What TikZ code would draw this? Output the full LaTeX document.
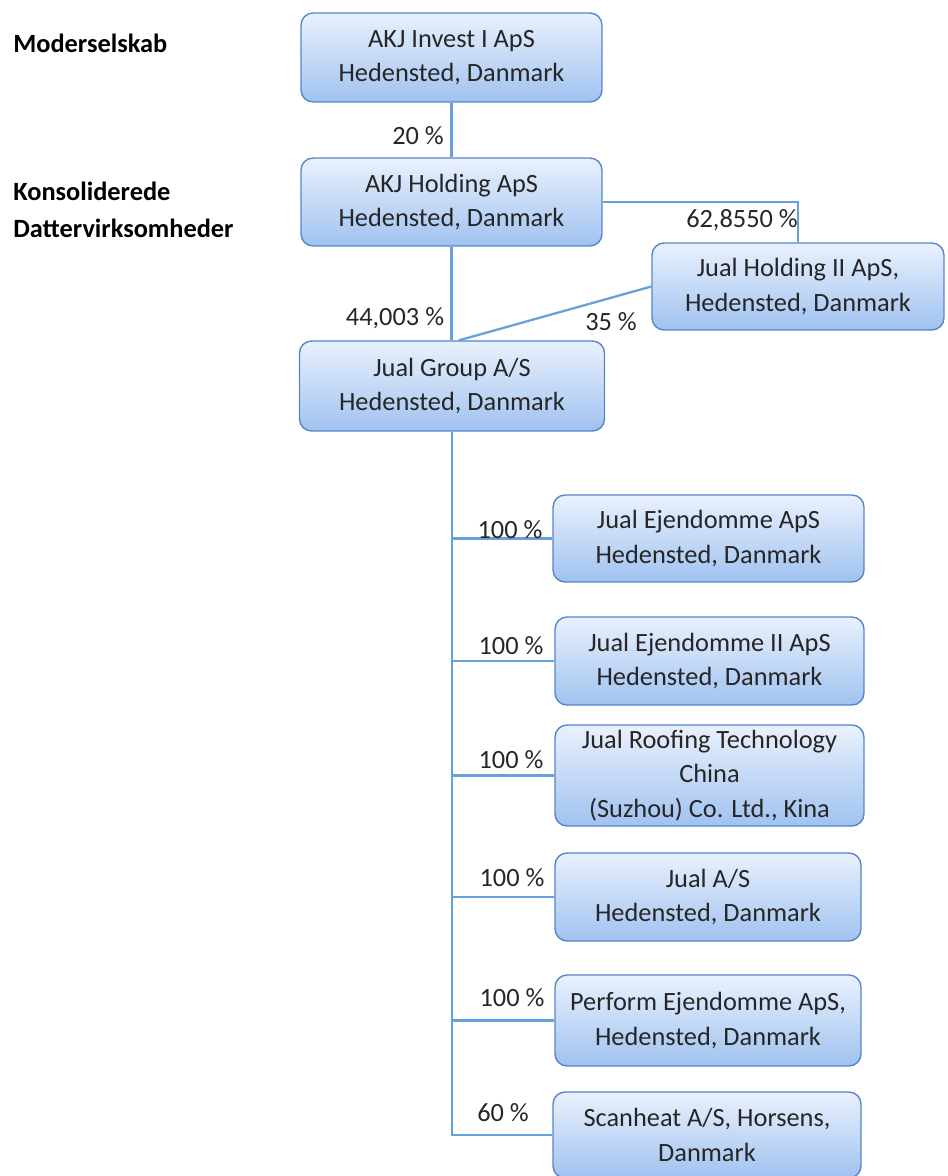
\documentclass[tikz,border=0pt]{standalone}
\usepackage{fontspec}
\setmainfont{Carlito}
\definecolor{boxline}{RGB}{84,134,200}
\definecolor{boxtop}{RGB}{234,241,253}
\definecolor{boxbot}{RGB}{160,194,240}
\definecolor{wire}{RGB}{104,160,218}
\begin{document}
\begin{tikzpicture}[x=0.02cm,y=-0.02cm,
                    font=\fontsize{15}{19.5}\selectfont,
                    box/.style={rounded corners=0.24cm,draw=boxline,line width=0.8pt,
                                top color=boxtop,bottom color=boxbot,align=center,
                                text=black!85,inner sep=2pt},
                    wire/.style={draw=wire,line width=1.3pt},
                    pct/.style={text=black!85,inner sep=0pt},
                    head/.style={anchor=west,align=left,inner sep=0pt,
                                 font=\fontsize{15}{21}\selectfont\bfseries}
                   ]
  \useasboundingbox (0,0) rectangle (947,1176);

  % side headings
  \node[head] (mother) at (13,43) {Moderselskab};
  \node[head] (subs) at (13,209.5) {Konsoliderede\\Dattervirksomheder};

  % companies
  \node[box,minimum width=6.02cm,minimum height=1.78cm] (invest) at (451.5,57.5) {AKJ Invest I ApS\\Hedensted, Danmark};
  \node[box,minimum width=6.02cm,minimum height=1.76cm] (holding) at (451.5,202) {AKJ Holding ApS\\Hedensted, Danmark};
  \node[box,minimum width=5.84cm,minimum height=1.74cm] (jualholding) at (798,286.5) {Jual Holding II ApS,\\Hedensted, Danmark};
  \node[box,minimum width=6.10cm,minimum height=1.80cm] (group) at (452,386) {Jual Group A/S\\Hedensted, Danmark};
  \node[box,minimum width=6.22cm,minimum height=1.74cm] (ejd) at (708.5,538.5) {Jual Ejendomme ApS\\Hedensted, Danmark};
  \node[box,minimum width=6.18cm,minimum height=1.76cm] (ejdii) at (709.5,661) {Jual Ejendomme II ApS\\Hedensted, Danmark};
  \node[box,minimum width=6.18cm,minimum height=2.02cm] (roofing) at (709.5,775.5) {Jual Roofing Technology\\China\\(Suzhou) Co. Ltd., Kina};
  \node[box,minimum width=6.12cm,minimum height=1.76cm] (jualas) at (708,897) {Jual A/S\\Hedensted, Danmark};
  \node[box,minimum width=6.12cm,minimum height=1.82cm] (perform) at (708,1020.5) {Perform Ejendomme ApS,\\Hedensted, Danmark};
  \node[box,minimum width=6.16cm,minimum height=1.72cm] (scanheat) at (707,1135) {Scanheat A/S, Horsens,\\Danmark};

  % ownership lines
  \path[wire]
   (invest) edge (holding)
   (holding.south) edge (holding.south |- group.north)
   (jualholding.west) edge ([xshift=0.14cm]group.north);
  \draw[wire] (holding.east) -| (jualholding.north);
  \draw[wire] (group.south) |- (ejd.west);
  \draw[wire] (group.south) |- (ejdii.west);
  \draw[wire] (group.south) |- (roofing.west);
  \draw[wire] (group.south) |- (jualas.west);
  \draw[wire] (group.south) |- (perform.west);
  \draw[wire] (group.south) |- (scanheat.west);

  % percentages
  \node[pct] (p1) at (418,136) {20 \%};
  \node[pct] (p2) at (742,220) {62,8550 \%};
  \node[pct] (p3) at (395,318) {44,003 \%};
  \node[pct] (p4) at (611,322) {35 \%};
  \node[pct] (p5) at (510,530) {100 \%};
  \node[pct] (p6) at (511,646) {100 \%};
  \node[pct] (p7) at (511,760) {100 \%};
  \node[pct] (p8) at (512,878) {100 \%};
  \node[pct] (p9) at (512,998) {100 \%};
  \node[pct] (p10) at (503,1113) {60 \%};
\end{tikzpicture}
\end{document}
